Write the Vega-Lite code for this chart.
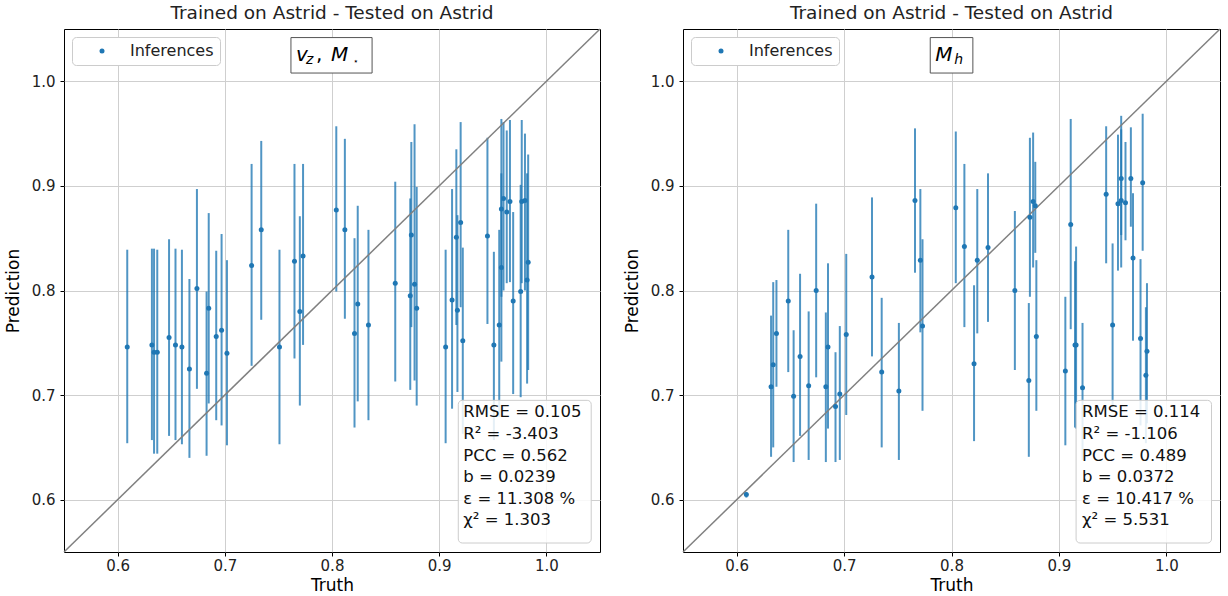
{
  "$schema": "https://vega.github.io/schema/vega-lite/v6.json",
  "autosize": {"type": "pad"},
  "padding": {"left": 3, "top": 3, "right": 4, "bottom": 2},
  "background": "white",
  "datasets": {
    "p1": [
      {"truth": 0.609, "pred": 0.746, "lo": 0.654, "hi": 0.839},
      {"truth": 0.632, "pred": 0.748, "lo": 0.657, "hi": 0.840},
      {"truth": 0.634, "pred": 0.741, "lo": 0.644, "hi": 0.840},
      {"truth": 0.637, "pred": 0.741, "lo": 0.644, "hi": 0.839},
      {"truth": 0.648, "pred": 0.755, "lo": 0.661, "hi": 0.849},
      {"truth": 0.654, "pred": 0.748, "lo": 0.657, "hi": 0.840},
      {"truth": 0.660, "pred": 0.746, "lo": 0.653, "hi": 0.839},
      {"truth": 0.667, "pred": 0.725, "lo": 0.640, "hi": 0.811},
      {"truth": 0.674, "pred": 0.802, "lo": 0.706, "hi": 0.897},
      {"truth": 0.683, "pred": 0.721, "lo": 0.642, "hi": 0.799},
      {"truth": 0.685, "pred": 0.783, "lo": 0.692, "hi": 0.874},
      {"truth": 0.692, "pred": 0.756, "lo": 0.676, "hi": 0.838},
      {"truth": 0.697, "pred": 0.762, "lo": 0.671, "hi": 0.854},
      {"truth": 0.702, "pred": 0.740, "lo": 0.652, "hi": 0.829},
      {"truth": 0.725, "pred": 0.824, "lo": 0.728, "hi": 0.921},
      {"truth": 0.734, "pred": 0.858, "lo": 0.772, "hi": 0.943},
      {"truth": 0.751, "pred": 0.746, "lo": 0.653, "hi": 0.839},
      {"truth": 0.765, "pred": 0.828, "lo": 0.735, "hi": 0.921},
      {"truth": 0.770, "pred": 0.780, "lo": 0.690, "hi": 0.871},
      {"truth": 0.773, "pred": 0.833, "lo": 0.748, "hi": 0.921},
      {"truth": 0.804, "pred": 0.877, "lo": 0.799, "hi": 0.957},
      {"truth": 0.812, "pred": 0.858, "lo": 0.773, "hi": 0.945},
      {"truth": 0.821, "pred": 0.759, "lo": 0.669, "hi": 0.850},
      {"truth": 0.824, "pred": 0.787, "lo": 0.694, "hi": 0.881},
      {"truth": 0.834, "pred": 0.767, "lo": 0.676, "hi": 0.858},
      {"truth": 0.859, "pred": 0.807, "lo": 0.713, "hi": 0.904},
      {"truth": 0.873, "pred": 0.795, "lo": 0.705, "hi": 0.888},
      {"truth": 0.874, "pred": 0.853, "lo": 0.765, "hi": 0.942},
      {"truth": 0.877, "pred": 0.806, "lo": 0.714, "hi": 0.959},
      {"truth": 0.879, "pred": 0.783, "lo": 0.690, "hi": 0.899},
      {"truth": 0.906, "pred": 0.746, "lo": 0.654, "hi": 0.839},
      {"truth": 0.912, "pred": 0.791, "lo": 0.687, "hi": 0.897},
      {"truth": 0.916, "pred": 0.851, "lo": 0.767, "hi": 0.935},
      {"truth": 0.917, "pred": 0.781, "lo": 0.703, "hi": 0.872},
      {"truth": 0.920, "pred": 0.865, "lo": 0.784, "hi": 0.961},
      {"truth": 0.922, "pred": 0.752, "lo": 0.663, "hi": 0.841},
      {"truth": 0.945, "pred": 0.852, "lo": 0.768, "hi": 0.946},
      {"truth": 0.951, "pred": 0.748, "lo": 0.657, "hi": 0.837},
      {"truth": 0.956, "pred": 0.767, "lo": 0.679, "hi": 0.858},
      {"truth": 0.958, "pred": 0.822, "lo": 0.732, "hi": 0.912},
      {"truth": 0.958, "pred": 0.878, "lo": 0.794, "hi": 0.964},
      {"truth": 0.960, "pred": 0.888, "lo": 0.800, "hi": 0.961},
      {"truth": 0.963, "pred": 0.875, "lo": 0.807, "hi": 0.953},
      {"truth": 0.966, "pred": 0.885, "lo": 0.808, "hi": 0.963},
      {"truth": 0.969, "pred": 0.790, "lo": 0.701, "hi": 0.875},
      {"truth": 0.976, "pred": 0.799, "lo": 0.698, "hi": 0.901},
      {"truth": 0.977, "pred": 0.885, "lo": 0.807, "hi": 0.963},
      {"truth": 0.980, "pred": 0.886, "lo": 0.800, "hi": 0.950},
      {"truth": 0.982, "pred": 0.810, "lo": 0.711, "hi": 0.912},
      {"truth": 0.983, "pred": 0.827, "lo": 0.724, "hi": 0.930}
    ],
    "p2": [
      {"truth": 0.609, "pred": 0.605, "lo": 0.602, "hi": 0.607},
      {"truth": 0.632, "pred": 0.708, "lo": 0.641, "hi": 0.776},
      {"truth": 0.634, "pred": 0.729, "lo": 0.650, "hi": 0.808},
      {"truth": 0.637, "pred": 0.759, "lo": 0.708, "hi": 0.810},
      {"truth": 0.648, "pred": 0.790, "lo": 0.722, "hi": 0.858},
      {"truth": 0.653, "pred": 0.699, "lo": 0.636, "hi": 0.762},
      {"truth": 0.659, "pred": 0.737, "lo": 0.661, "hi": 0.816},
      {"truth": 0.667, "pred": 0.709, "lo": 0.638, "hi": 0.780},
      {"truth": 0.674, "pred": 0.800, "lo": 0.717, "hi": 0.883},
      {"truth": 0.683, "pred": 0.708, "lo": 0.636, "hi": 0.779},
      {"truth": 0.685, "pred": 0.746, "lo": 0.668, "hi": 0.826},
      {"truth": 0.692, "pred": 0.689, "lo": 0.636, "hi": 0.741},
      {"truth": 0.696, "pred": 0.701, "lo": 0.638, "hi": 0.766},
      {"truth": 0.702, "pred": 0.758, "lo": 0.681, "hi": 0.835},
      {"truth": 0.726, "pred": 0.813, "lo": 0.737, "hi": 0.889},
      {"truth": 0.735, "pred": 0.722, "lo": 0.650, "hi": 0.793},
      {"truth": 0.751, "pred": 0.704, "lo": 0.638, "hi": 0.769},
      {"truth": 0.766, "pred": 0.886, "lo": 0.817, "hi": 0.955},
      {"truth": 0.771, "pred": 0.829, "lo": 0.760, "hi": 0.897},
      {"truth": 0.773, "pred": 0.766, "lo": 0.685, "hi": 0.849},
      {"truth": 0.804, "pred": 0.879, "lo": 0.807, "hi": 0.952},
      {"truth": 0.812, "pred": 0.842, "lo": 0.765, "hi": 0.921},
      {"truth": 0.821, "pred": 0.730, "lo": 0.656, "hi": 0.805},
      {"truth": 0.824, "pred": 0.829, "lo": 0.759, "hi": 0.897},
      {"truth": 0.834, "pred": 0.841, "lo": 0.770, "hi": 0.912},
      {"truth": 0.859, "pred": 0.800, "lo": 0.724, "hi": 0.876},
      {"truth": 0.872, "pred": 0.714, "lo": 0.641, "hi": 0.788},
      {"truth": 0.873, "pred": 0.870, "lo": 0.794, "hi": 0.946},
      {"truth": 0.876, "pred": 0.885, "lo": 0.822, "hi": 0.951},
      {"truth": 0.878, "pred": 0.881, "lo": 0.836, "hi": 0.923},
      {"truth": 0.879, "pred": 0.756, "lo": 0.685, "hi": 0.829},
      {"truth": 0.906, "pred": 0.723, "lo": 0.652, "hi": 0.794},
      {"truth": 0.911, "pred": 0.863, "lo": 0.763, "hi": 0.964},
      {"truth": 0.915, "pred": 0.748, "lo": 0.669, "hi": 0.828},
      {"truth": 0.916, "pred": 0.748, "lo": 0.668, "hi": 0.842},
      {"truth": 0.922, "pred": 0.707, "lo": 0.638, "hi": 0.769},
      {"truth": 0.944, "pred": 0.892, "lo": 0.826, "hi": 0.957},
      {"truth": 0.950, "pred": 0.767, "lo": 0.689, "hi": 0.845},
      {"truth": 0.955, "pred": 0.883, "lo": 0.819, "hi": 0.949},
      {"truth": 0.958, "pred": 0.907, "lo": 0.853, "hi": 0.967},
      {"truth": 0.958, "pred": 0.886, "lo": 0.822, "hi": 0.954},
      {"truth": 0.962, "pred": 0.884, "lo": 0.848, "hi": 0.942},
      {"truth": 0.967, "pred": 0.907, "lo": 0.861, "hi": 0.956},
      {"truth": 0.969, "pred": 0.831, "lo": 0.752, "hi": 0.893},
      {"truth": 0.976, "pred": 0.754, "lo": 0.671, "hi": 0.830},
      {"truth": 0.978, "pred": 0.903, "lo": 0.838, "hi": 0.969},
      {"truth": 0.982, "pred": 0.742, "lo": 0.673, "hi": 0.807},
      {"truth": 0.981, "pred": 0.719, "lo": 0.654, "hi": 0.784}
    ],
    "diag": [{"t": 0.55}, {"t": 1.05}],
    "one": [{}]
  },
  "config": {
    "font": "DejaVu Sans",
    "view": {"stroke": "black", "strokeWidth": 1},
    "axis": {
      "domain": false,
      "grid": true,
      "gridColor": "#cfcfcf",
      "gridWidth": 1,
      "ticks": true,
      "tickColor": "black",
      "tickSize": 4,
      "labelFont": "DejaVu Sans",
      "labelFontSize": 15,
      "labelColor": "#222222",
      "titleFont": "DejaVu Sans",
      "titleFontSize": 17,
      "titleFontWeight": "normal",
      "titleColor": "black"
    },
    "axisX": {"labelPadding": 2, "titlePadding": 4},
    "axisY": {"labelPadding": 5, "titlePadding": 9},
    "title": {"font": "DejaVu Sans", "fontSize": 18.5, "fontWeight": "normal", "color": "#222222", "offset": 4},
    "legend": {
      "orient": "top-left",
      "offset": 8,
      "padding": 6,
      "strokeColor": "#cccccc",
      "fillColor": "white",
      "cornerRadius": 4,
      "labelFont": "DejaVu Sans",
      "labelFontSize": 16,
      "labelColor": "#222222",
      "symbolSize": 25,
      "symbolOffset": 16,
      "labelOffset": 20,
      "symbolStrokeWidth": 0
    }
  },
  "bounds": "flush",
  "spacing": 83,
  "resolve": {"scale": {"color": "independent"}, "legend": {"color": "independent"}},
  "hconcat": [
    {
      "width": 536,
      "height": 523,
      "title": "Trained on Astrid - Tested on Astrid",
      "layer": [
        {
          "data": {"name": "p1"},
          "mark": {"type": "rule", "color": "#1f77b4", "strokeWidth": 2, "opacity": 0.78},
          "encoding": {
            "x": {"field": "truth", "type": "quantitative", "title": "Truth", "scale": {"domain": [0.55, 1.05], "nice": false, "zero": false}, "axis": {"values": [0.6, 0.7, 0.8, 0.9, 1.0], "format": ".1f"}},
            "y": {"field": "lo", "type": "quantitative", "title": "Prediction", "scale": {"domain": [0.55, 1.05], "nice": false, "zero": false}, "axis": {"values": [0.6, 0.7, 0.8, 0.9, 1.0], "format": ".1f"}},
            "y2": {"field": "hi"}
          }
        },
        {
          "data": {"name": "diag"},
          "mark": {"type": "line", "color": "#808080", "strokeWidth": 1.5},
          "encoding": {
            "x": {"field": "t", "type": "quantitative", "title": "Truth"},
            "y": {"field": "t", "type": "quantitative", "title": "Prediction"}
          }
        },
        {
          "data": {"name": "p1"},
          "mark": {"type": "circle", "size": 25, "opacity": 1},
          "encoding": {
            "x": {"field": "truth", "type": "quantitative", "title": "Truth"},
            "y": {"field": "pred", "type": "quantitative", "title": "Prediction"},
            "color": {"datum": "Inferences", "type": "nominal", "scale": {"range": ["#1f77b4"]}, "legend": {"title": null}}
          }
        },
        {
          "data": {"name": "one"},
          "mark": {"type": "rect", "fill": "white", "stroke": "#555555", "strokeWidth": 1},
          "encoding": {
            "x": {"datum": 0.7617, "type": "quantitative"},
            "x2": {"datum": 0.8374},
            "y": {"datum": 1.0418, "type": "quantitative"},
            "y2": {"datum": 1.0079}
          }
        },
        {
          "data": {"name": "one"},
          "mark": {"type": "text", "text": "v", "fontStyle": "italic", "fontSize": 20, "align": "left", "baseline": "middle", "dx": 5, "color": "black"},
          "encoding": {"x": {"datum": 0.7617, "type": "quantitative"}, "y": {"datum": 1.0255, "type": "quantitative"}}
        },
        {
          "data": {"name": "one"},
          "mark": {"type": "text", "text": "z", "fontStyle": "italic", "fontSize": 14, "align": "left", "baseline": "middle", "dx": 15, "dy": 5, "color": "black"},
          "encoding": {"x": {"datum": 0.7617, "type": "quantitative"}, "y": {"datum": 1.0255, "type": "quantitative"}}
        },
        {
          "data": {"name": "one"},
          "mark": {"type": "text", "text": ",", "fontSize": 20, "align": "left", "baseline": "middle", "dx": 25, "color": "black"},
          "encoding": {"x": {"datum": 0.7617, "type": "quantitative"}, "y": {"datum": 1.0255, "type": "quantitative"}}
        },
        {
          "data": {"name": "one"},
          "mark": {"type": "text", "text": "M", "fontStyle": "italic", "fontSize": 20, "align": "left", "baseline": "middle", "dx": 40, "color": "black"},
          "encoding": {"x": {"datum": 0.7617, "type": "quantitative"}, "y": {"datum": 1.0255, "type": "quantitative"}}
        },
        {
          "data": {"name": "one"},
          "mark": {"type": "text", "text": "⋆", "fontSize": 9, "align": "left", "baseline": "middle", "dx": 62, "dy": 6, "color": "black"},
          "encoding": {"x": {"datum": 0.7617, "type": "quantitative"}, "y": {"datum": 1.0255, "type": "quantitative"}}
        },
        {
          "data": {"name": "one"},
          "mark": {"type": "rect", "fill": "white", "fillOpacity": 0.85, "stroke": "#cccccc", "strokeWidth": 1, "cornerRadius": 4},
          "encoding": {
            "x": {"datum": 0.9178, "type": "quantitative"},
            "x2": {"datum": 1.0418},
            "y": {"datum": 0.695, "type": "quantitative"},
            "y2": {"datum": 0.5586}
          }
        },
        {
          "data": {"name": "one"},
          "mark": {"type": "text", "text": ["RMSE = 0.105", "R² = -3.403", "PCC = 0.562", "b = 0.0239", "ε = 11.308 %", "χ² = 1.303"], "fontSize": 16.5, "lineHeight": 21.6, "align": "left", "baseline": "top", "dx": 5, "dy": 4, "color": "#111111"},
          "encoding": {"x": {"datum": 0.9178, "type": "quantitative"}, "y": {"datum": 0.695, "type": "quantitative"}}
        }
      ]
    },
    {
      "width": 537,
      "height": 523,
      "title": "Trained on Astrid - Tested on Astrid",
      "layer": [
        {
          "data": {"name": "p2"},
          "mark": {"type": "rule", "color": "#1f77b4", "strokeWidth": 2, "opacity": 0.78},
          "encoding": {
            "x": {"field": "truth", "type": "quantitative", "title": "Truth", "scale": {"domain": [0.55, 1.05], "nice": false, "zero": false}, "axis": {"values": [0.6, 0.7, 0.8, 0.9, 1.0], "format": ".1f"}},
            "y": {"field": "lo", "type": "quantitative", "title": "Prediction", "scale": {"domain": [0.55, 1.05], "nice": false, "zero": false}, "axis": {"values": [0.6, 0.7, 0.8, 0.9, 1.0], "format": ".1f"}},
            "y2": {"field": "hi"}
          }
        },
        {
          "data": {"name": "diag"},
          "mark": {"type": "line", "color": "#808080", "strokeWidth": 1.5},
          "encoding": {
            "x": {"field": "t", "type": "quantitative", "title": "Truth"},
            "y": {"field": "t", "type": "quantitative", "title": "Prediction"}
          }
        },
        {
          "data": {"name": "p2"},
          "mark": {"type": "circle", "size": 25, "opacity": 1},
          "encoding": {
            "x": {"field": "truth", "type": "quantitative", "title": "Truth"},
            "y": {"field": "pred", "type": "quantitative", "title": "Prediction"},
            "color": {"datum": "Inferences", "type": "nominal", "scale": {"range": ["#1f77b4"]}, "legend": {"title": null}}
          }
        },
        {
          "data": {"name": "one"},
          "mark": {"type": "rect", "fill": "white", "stroke": "#555555", "strokeWidth": 1},
          "encoding": {
            "x": {"datum": 0.7802, "type": "quantitative"},
            "x2": {"datum": 0.8199},
            "y": {"datum": 1.0418, "type": "quantitative"},
            "y2": {"datum": 1.0079}
          }
        },
        {
          "data": {"name": "one"},
          "mark": {"type": "text", "text": "M", "fontStyle": "italic", "fontSize": 20, "align": "left", "baseline": "middle", "dx": 5, "color": "black"},
          "encoding": {"x": {"datum": 0.7802, "type": "quantitative"}, "y": {"datum": 1.0255, "type": "quantitative"}}
        },
        {
          "data": {"name": "one"},
          "mark": {"type": "text", "text": "h", "fontStyle": "italic", "fontSize": 14, "align": "left", "baseline": "middle", "dx": 24, "dy": 5, "color": "black"},
          "encoding": {"x": {"datum": 0.7802, "type": "quantitative"}, "y": {"datum": 1.0255, "type": "quantitative"}}
        },
        {
          "data": {"name": "one"},
          "mark": {"type": "rect", "fill": "white", "fillOpacity": 0.85, "stroke": "#cccccc", "strokeWidth": 1, "cornerRadius": 4},
          "encoding": {
            "x": {"datum": 0.916, "type": "quantitative"},
            "x2": {"datum": 1.0421},
            "y": {"datum": 0.695, "type": "quantitative"},
            "y2": {"datum": 0.5586}
          }
        },
        {
          "data": {"name": "one"},
          "mark": {"type": "text", "text": ["RMSE = 0.114", "R² = -1.106", "PCC = 0.489", "b = 0.0372", "ε = 10.417 %", "χ² = 5.531"], "fontSize": 16.5, "lineHeight": 21.6, "align": "left", "baseline": "top", "dx": 6, "dy": 4, "color": "#111111"},
          "encoding": {"x": {"datum": 0.916, "type": "quantitative"}, "y": {"datum": 0.695, "type": "quantitative"}}
        }
      ]
    }
  ]
}
